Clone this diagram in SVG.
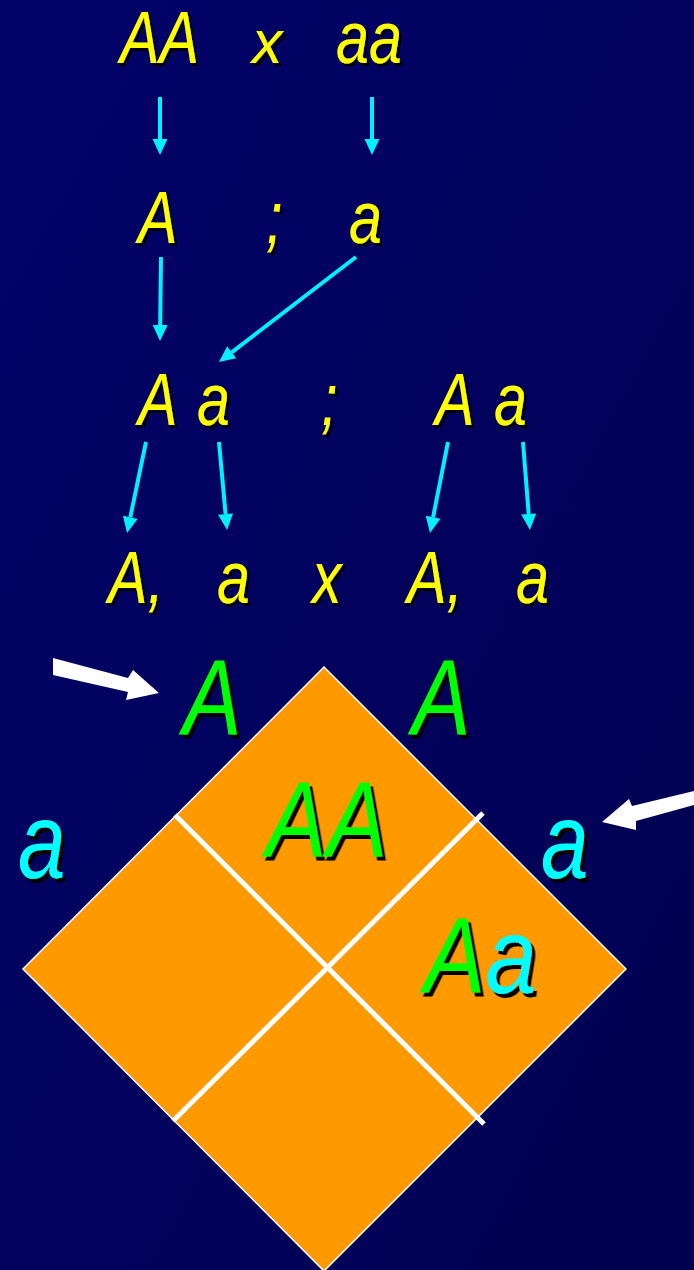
<svg xmlns="http://www.w3.org/2000/svg" width="694" height="1270" viewBox="0 0 694 1270">
<defs>
<linearGradient id="bg" x1="0" y1="0" x2="1" y2="1">
<stop offset="0" stop-color="#03036A"/>
<stop offset="1" stop-color="#000050"/>
</linearGradient>
<filter id="sh" x="-20%" y="-20%" width="150%" height="150%">
<feDropShadow dx="3" dy="3" stdDeviation="0" flood-color="#000" flood-opacity="1"/>
</filter>
<filter id="shb" x="-20%" y="-20%" width="150%" height="150%">
<feDropShadow dx="4" dy="4" stdDeviation="0" flood-color="#000" flood-opacity="1"/>
</filter>
<marker id="ah" markerUnits="userSpaceOnUse" markerWidth="18" markerHeight="16" viewBox="0 -8 17 16" refX="0" refY="0" orient="auto">
<path d="M0,-7.5 L16,0 L0,7.5 z" fill="#00F0FF"/>
</marker>
<style>
text{font-family:"Liberation Sans",Arial,sans-serif;font-style:italic;filter:url(#sh);}
.y{fill:#FFFF00;font-size:74px;}
.sx{font-size:62px;}
.g{fill:#00FF00;font-size:107px;filter:url(#shb);}
.c{fill:#00FFFF;font-size:107px;filter:url(#shb);}
.cl{fill:#00FFFF;}
.con line{stroke:#00F0FF;stroke-width:4;marker-end:url(#ah);}
.blk{fill:#FFFFFF;}
</style>
</defs>
<rect width="694" height="1270" fill="url(#bg)"/>

<g id="connectors" class="con">
<line x1="160" y1="97" x2="160" y2="139"/>
<line x1="372" y1="97" x2="372" y2="139"/>
<line x1="161" y1="257" x2="160.2" y2="325"/>
<line x1="356" y1="257" x2="231.7" y2="352.3"/>
<line x1="146" y1="442" x2="130.3" y2="517.4"/>
<line x1="219" y1="442" x2="225.6" y2="514.1"/>
<line x1="448" y1="442" x2="433.1" y2="517.3"/>
<line x1="523" y1="442" x2="528.7" y2="514"/>
</g>

<g id="row1">
<text class="y" transform="translate(120 63) scale(0.8 1)">AA</text>
<text class="y sx" transform="translate(252 63) scale(0.98 1)">x</text>
<text class="y" transform="translate(336 63) scale(0.8 1)">aa</text>
</g>
<g id="row2">
<text class="y" transform="translate(138 243) scale(0.8 1)">A</text>
<text class="y" transform="translate(266 243) scale(0.8 1)">;</text>
<text class="y" transform="translate(349 243) scale(0.8 1)">a</text>
</g>
<g id="row3">
<text class="y" transform="translate(138 425) scale(0.8 1)">A</text>
<text class="y" transform="translate(197 425) scale(0.8 1)">a</text>
<text class="y" transform="translate(321 425) scale(0.8 1)">;</text>
<text class="y" transform="translate(435 425) scale(0.8 1)">A</text>
<text class="y" transform="translate(494 425) scale(0.8 1)">a</text>
</g>
<g id="row4">
<text class="y" transform="translate(108 603) scale(0.8 1)">A,</text>
<text class="y" transform="translate(217 603) scale(0.8 1)">a</text>
<text class="y" transform="translate(312 603) scale(0.8 1)">x</text>
<text class="y" transform="translate(407 603) scale(0.8 1)">A,</text>
<text class="y" transform="translate(516 603) scale(0.8 1)">a</text>
</g>

<g id="punnett">
<path d="M324,667 L626,969 L324,1271 L23,969 Z" fill="#FF9900" stroke="#FFFFFF" stroke-width="1.5"/>
<line x1="175" y1="815" x2="484" y2="1124" stroke="#FFFFFF" stroke-width="5"/>
<line x1="483" y1="813" x2="173" y2="1121" stroke="#FFFFFF" stroke-width="5"/>
</g>

<g id="arrow-left"><polygon class="blk" points="53,658 128,678 133,670 159,693 126,700 128,692 53,675"/></g>
<g id="arrow-right"><polygon class="blk" points="694,791 632,806 629,799 602,822 636,830 636,821 694,805"/></g>

<g id="labels">
<text class="g" transform="translate(183 735) scale(0.82 1)">A</text>
<text class="g" transform="translate(412 735) scale(0.82 1)">A</text>
<text class="c" transform="translate(18 878) scale(0.8 1)">a</text>
<text class="c" transform="translate(541 878) scale(0.8 1)">a</text>
<text class="g" transform="translate(266 857) scale(0.85 1)">AA</text>
<text class="g" transform="translate(424 993) scale(0.86 1)">A<tspan class="cl">a</tspan></text>
</g>
</svg>
